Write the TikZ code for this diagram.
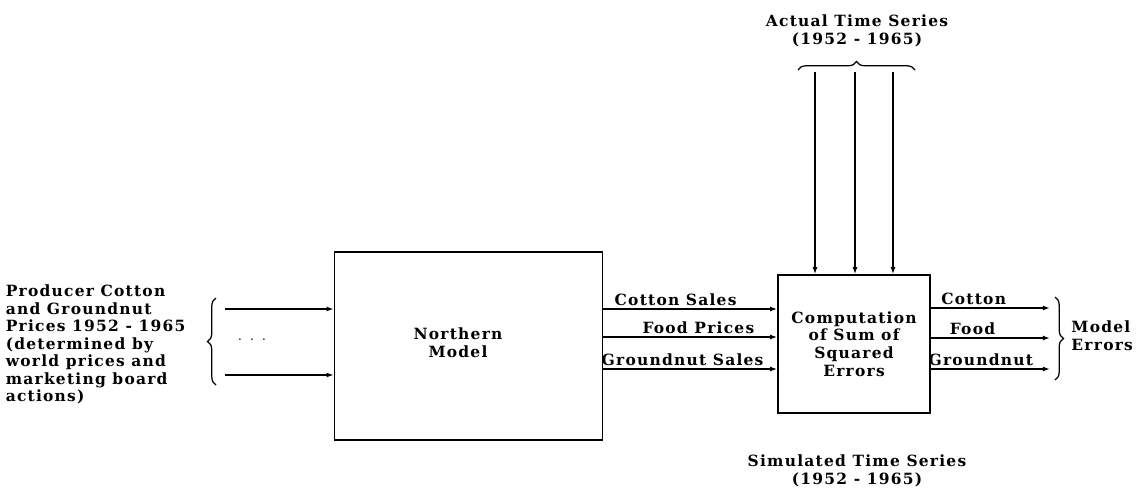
\documentclass[tikz,border=0pt]{standalone}
\usepackage{fontspec}
\setmainfont{DejaVu Serif}[LetterSpace=8]
\usetikzlibrary{arrows.meta,decorations.pathreplacing,positioning}

\begin{document}
\begin{tikzpicture}[x=0.025cm, y=-0.025cm, line width=1.1pt,
  font=\bfseries\fontsize{11}{12.5}\selectfont,
  blk/.style={draw, inner sep=0pt},
  sig/.style={-{Latex[length=5pt,width=3.5pt]}},
  lbl/.style={above, inner sep=1.5pt},
  brc/.style={decorate, decoration={brace, amplitude=6pt}, line width=0.9pt}]

\useasboundingbox (0,0) rectangle (1147,495);

% Blocks
\node[blk, minimum width=6.7cm, minimum height=4.7cm] (nm) at (468.5,346) {};
\node[align=center] (nmtext) at (458,343) {Northern\\Model};
\node[blk, align=center, minimum width=3.8cm, minimum height=3.45cm] (cse) at (854,344) {Computation\\of Sum of\\Squared\\Errors};

% Producer prices (inputs)
\coordinate (p1) at (225,309);
\coordinate (p2) at (225,375);
\draw[sig] (p1) -- (p1 -| nm.west);
\draw[sig] (p2) -- (p2 -| nm.west);
\draw[brc] (216,385) -- (216,298);
\node (dots) at (252,340) {$\cdot\;\cdot\;\cdot$};
\node[align=left, anchor=north west, inner sep=0pt] (prices) at (5,284)
  {Producer Cotton\\and Groundnut\\Prices 1952 - 1965\\(determined by\\world prices and\\marketing board\\actions)};

% Simulated time series
\coordinate (s1) at (602,309);
\coordinate (s2) at (602,337);
\coordinate (s3) at (602,369);
\draw[sig] (s1) -- (s1 -| cse.west) node[lbl, pos=0.42] {Cotton Sales};
\draw[sig] (s2) -- (s2 -| cse.west) node[lbl, pos=0.55] {Food Prices};
\draw[sig] (s3) -- (s3 -| cse.west) node[lbl, pos=0.46] {Groundnut Sales};
\node[align=center] (sim) at (857,471) {Simulated Time Series\\(1952 - 1965)};

% Actual time series
\foreach \x [count=\i] in {815,855,893} {
  \coordinate (a\i) at (\x,72);
  \draw[sig] (a\i) -- (a\i |- cse.north);
}
\draw[brc] (798,70) -- (915,70);
\node[align=center] (act) at (857,31) {Actual Time Series\\(1952 - 1965)};

% Model errors
\foreach \y/\t/\p [count=\i] in {308/Cotton/0.36, 338/Food/0.35, 369/Groundnut/0.42} {
  \coordinate (e\i) at (1050,\y);
  \draw[sig] (e\i -| cse.east) -- (e\i) node[lbl, pos=\p] {\t};
}
\draw[brc] (1055,297) -- (1055,380);
\node[align=left, anchor=west] (err) at (1066,336) {Model\\Errors};
\end{tikzpicture}
\end{document}
